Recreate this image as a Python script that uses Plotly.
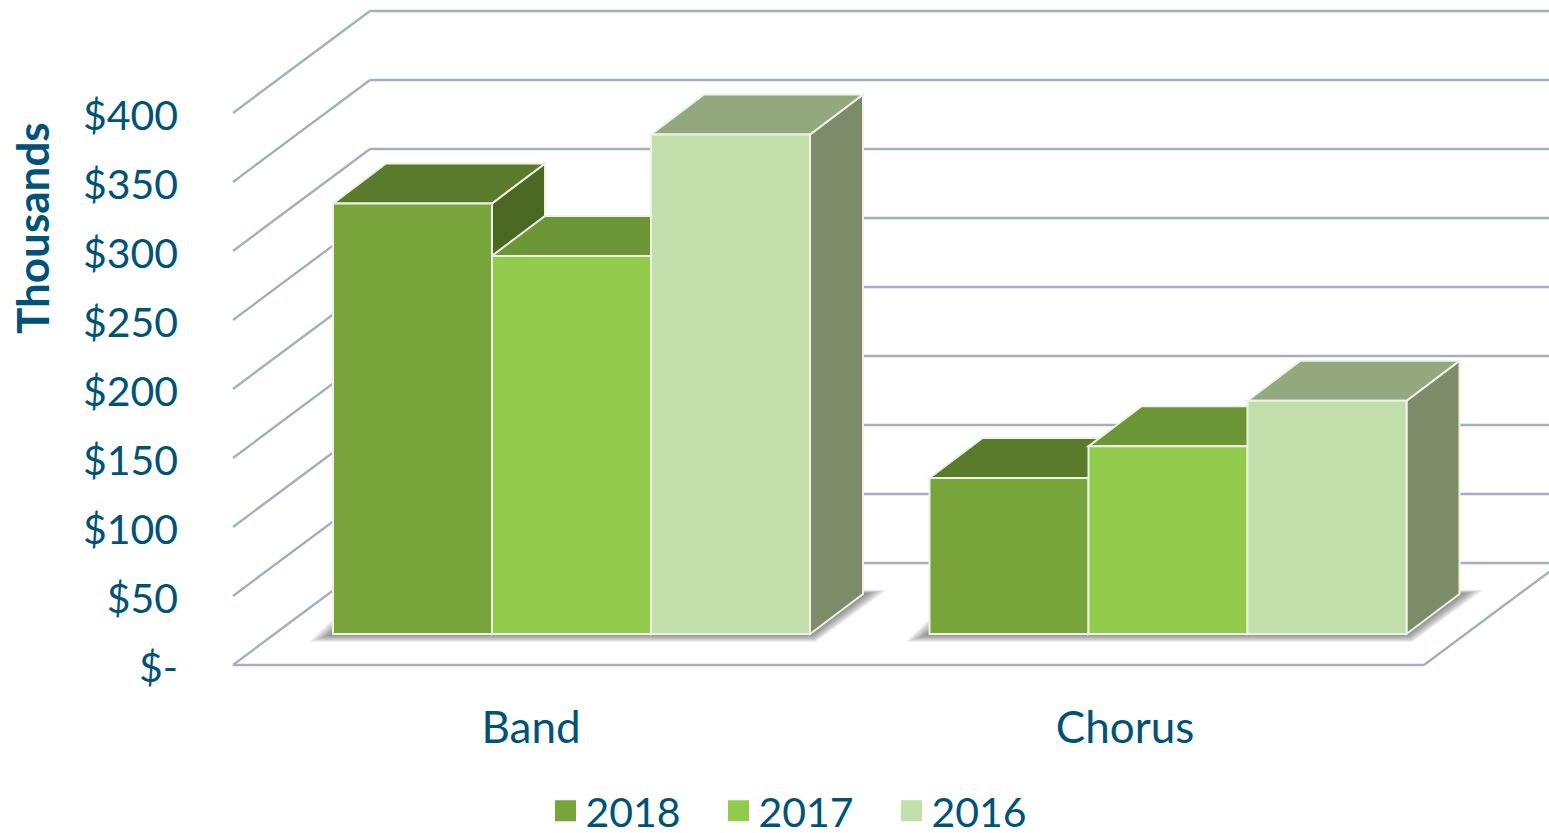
import plotly.graph_objects as go

# ---- data (thousands of dollars) ----
categories = ["Band", "Chorus"]
years = ["2018", "2017", "2016"]
values_2018 = [312, 113]
values_2017 = [274, 136]
values_2016 = [362, 169]
tick_values = [0, 50, 100, 150, 200, 250, 300, 350, 400]
tick_labels = ["$-", "$50", "$100", "$150", "$200", "$250", "$300", "$350", "$400"]

# ---- styling / projection ----
TXT = "#005377"
GRID = "#A4AEC1"
FRONT = ["#77A53C", "#92CB4C", "#C2DEAA"]
TOP = ["#5A7A2C", "#6C9536", "#94A880"]
SIDE = ["#4B6822", "#5F8430", "#7C8C68"]
FONT = "Lato"
W, H = 1549, 833
LEFT = 179
PX = 1.38                # pixels per thousand dollars
Y0_PX = 665              # pixel row of $0 at the front of the floor
FLOOR_L, FLOOR_R = 233, 1424
WALL_DX, WALL_DY = 137, 102 / PX
BAR_DX, BAR_DY = 53, 40 / PX
BAR_BASE = 31 / PX       # bars stand this far back on the floor
BAR_W = 159
GROUP_CENTERS = [571.5, 1168]
LABEL_X = [531, 1125]

series = [values_2018, values_2017, values_2016]
shapes = []

def poly(pts, fill, line=None, lw=0, opacity=1.0):
    path = "M " + " L ".join(f"{x:.2f},{y:.2f}" for x, y in pts) + " Z"
    shapes.append(dict(type="path", path=path, xref="x", yref="y", layer="below",
                       fillcolor=fill, opacity=opacity,
                       line=dict(color=line or "rgba(0,0,0,0)", width=lw)))

def seg(x0, y0, x1, y1):
    shapes.append(dict(type="line", x0=x0, y0=y0, x1=x1, y1=y1, xref="x", yref="y",
                       layer="below", line=dict(color=GRID, width=2.4)))

# floor and walls
seg(FLOOR_L, 0, FLOOR_R, 0)
seg(FLOOR_L, 0, FLOOR_L + WALL_DX, WALL_DY)
seg(FLOOR_R, 0, FLOOR_R + WALL_DX, WALL_DY)
for v in tick_values:
    seg(FLOOR_L + WALL_DX, v + WALL_DY, W + 20, v + WALL_DY)
    if v:
        seg(FLOOR_L, v, FLOOR_L + WALL_DX, v + WALL_DY)

# soft contact shadows: the boxes' footprint, grown in small translucent steps
for gc in GROUP_CENTERS:
    xl = gc - 1.5 * BAR_W
    xr = gc + 1.5 * BAR_W
    for i in range(14):
        g = 1 - i / 14
        poly([(xl - 24 * g, BAR_BASE - 8 * g / PX),
              (xr + 6 * g, BAR_BASE - 8 * g / PX),
              (xr + BAR_DX + 24 * g, BAR_BASE + BAR_DY + 4 * g / PX),
              (xl + BAR_DX - 24 * g, BAR_BASE + BAR_DY + 4 * g / PX)], "#404040", opacity=0.06)

# top and side faces of the boxes, left to right
for g, gc in enumerate(GROUP_CENTERS):
    for s, vals in enumerate(series):
        xl = gc + (s - 1.5) * BAR_W
        xr = xl + BAR_W
        top = BAR_BASE + vals[g]
        edge = "#EEF3E6"
        poly([(xr, BAR_BASE), (xr + BAR_DX, BAR_BASE + BAR_DY),
              (xr + BAR_DX, top + BAR_DY), (xr, top)], SIDE[s], edge, 2)
        poly([(xl, top), (xl + BAR_DX, top + BAR_DY),
              (xr + BAR_DX, top + BAR_DY), (xr, top)], TOP[s], edge, 2)

fig = go.Figure()
for s, vals in enumerate(series):
    fig.add_trace(go.Bar(
        x=[gc + (s - 1) * BAR_W for gc in GROUP_CENTERS], y=vals, base=BAR_BASE,
        width=BAR_W, name=years[s], showlegend=False,
        marker=dict(color=FRONT[s], line=dict(color="#EEF3E6", width=2)),
        customdata=categories, hovertemplate="%{customdata}: $%{y}K<extra>" + years[s] + "</extra>",
    ))
for s, yr in enumerate(years):
    fig.add_trace(go.Scatter(
        x=[None], y=[None], mode="markers", name=yr, showlegend=True,
        marker=dict(symbol="square", size=16, color=FRONT[s], line=dict(color=FRONT[s], width=5)),
    ))

fig.update_layout(
    width=W, height=H, autosize=False, barmode="overlay",
    margin=dict(l=LEFT, r=0, t=0, b=0, pad=0, autoexpand=False),
    paper_bgcolor="white", plot_bgcolor="white",
    font=dict(family=FONT, color=TXT, size=41),
    shapes=shapes,
    xaxis=dict(range=[LEFT, W], tickvals=LABEL_X, ticktext=categories, showgrid=False,
               zeroline=False, showline=False, ticks="", anchor="free",
               position=(H - 698) / H, tickfont=dict(family=FONT, size=44, color=TXT)),
    yaxis=dict(range=[(Y0_PX - H) / PX, Y0_PX / PX], tickvals=tick_values, ticktext=tick_labels,
               showgrid=False, zeroline=False, showline=False, ticks="", ticklabelshift=3,
               tickfont=dict(family=FONT, size=41, color=TXT)),
    legend=dict(orientation="h", x=(805 - LEFT) / (W - LEFT), xanchor="center", y=(H - 811) / H,
                yanchor="middle", font=dict(family=FONT, size=41, color=TXT),
                entrywidth=128, entrywidthmode="pixels", bgcolor="rgba(0,0,0,0)",
                itemsizing="trace", traceorder="normal"),
    annotations=[dict(text="<b>Thousands</b>", xref="paper", yref="paper",
                      x=-(LEFT - 32) / (W - LEFT), y=(H - 228) / H, textangle=-90, showarrow=False,
                      font=dict(family=FONT, size=44, color=TXT),
                      xanchor="center", yanchor="middle")],
)
fig.write_html("out.html", post_script="document.body.style.margin='0';",
               config=dict(displayModeBar=False))
